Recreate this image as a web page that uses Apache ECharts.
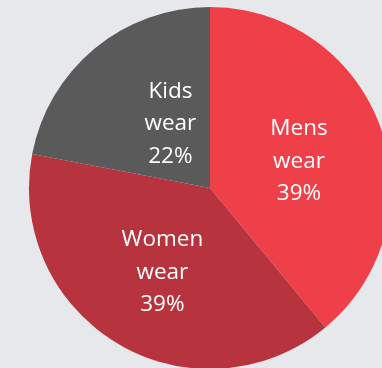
<!DOCTYPE html>
<html><head><meta charset="utf-8">
<script src="https://cdn.jsdelivr.net/npm/echarts@6/dist/echarts.min.js"></script>
<style>html,body{margin:0;padding:0;background:#e7e8ec;}#c{width:382px;height:368px;}</style>
</head><body><div id="c"></div>
<script>
const categories = ["Mens\nwear", "Women\nwear", "Kids\nwear"];
const values = [39, 39, 22];
const colors = ["#ef404a", "#b7343f", "#5a5a5a"];
const chart = echarts.init(document.getElementById('c'), null, {renderer: 'canvas'});
chart.setOption({
  backgroundColor: '#e7e8ec',
  animation: false,
  series: [{
    type: 'pie',
    center: [210, 188],
    radius: [0, 181],
    startAngle: 90,
    clockwise: true,
    silent: true,
    data: categories.map((c, i) => ({name: c, value: values[i], itemStyle: {color: colors[i]}})),
    itemStyle: {borderWidth: 0},
    label: {
      show: true,
      position: 'inside',
      formatter: p => p.name + '\n' + p.value + '%',
      color: '#ffffff',
      fontFamily: 'Open Sans',
      fontSize: 22.5,
      lineHeight: 32.5,
      align: 'center'
    },
    labelLine: {show: false},
    labelLayout: function (p) {
      if (p.dataIndex === 2) return {dx: 20, dy: 8};
      if (p.dataIndex === 0) return {dx: 1, dy: 5};
      return {dy: 4};
    }
  }]
});
</script></body></html>
